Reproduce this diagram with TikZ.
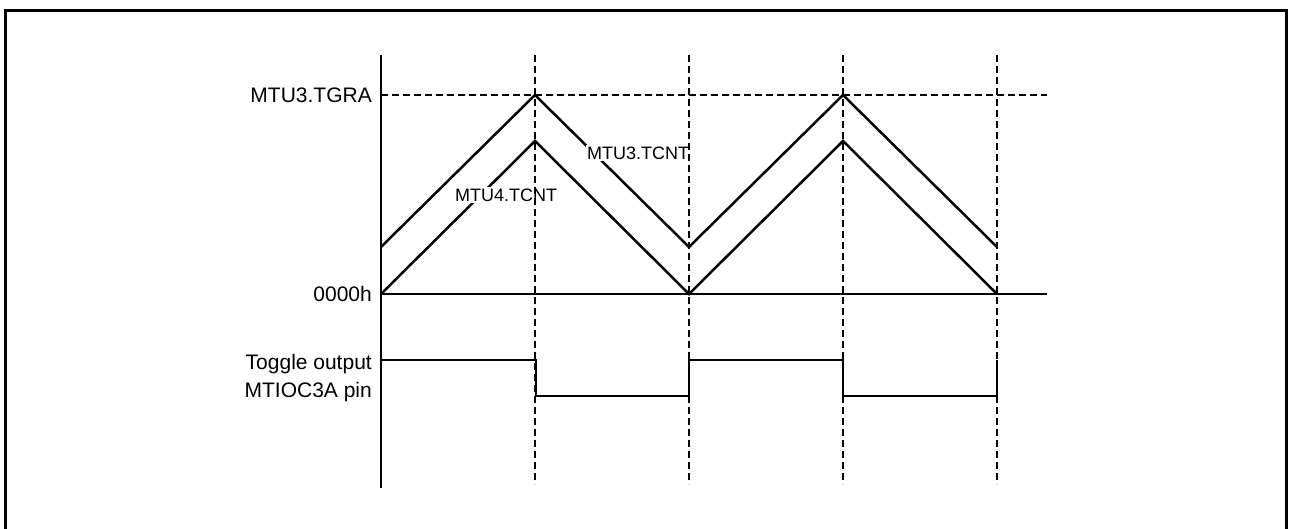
\documentclass[tikz,border=0pt]{standalone}
\usepackage{fontspec}
\setmainfont{Liberation Sans}
\begin{document}
\begin{tikzpicture}[x=1pt,y=-1pt,
  frameline/.style={line width=3pt},
  axisline/.style={line width=1.3pt},
  gridline/.style={line width=1.2pt, dash pattern=on 7pt off 4pt},
  sigline/.style={line width=2.5pt, line join=miter},
  axlabel/.style={font=\fontsize{21}{25}\selectfont, inner sep=0pt, anchor=base east},
  wavelabel/.style={font=\fontsize{18}{22}\selectfont, inner sep=1.5pt, fill=white}]
\useasboundingbox (0,0) rectangle (1289,529);
% frame
\draw[frameline] (5.5,529) -- (5.5,10.5) -- (1286.5,10.5) -- (1286.5,529);
% coordinates
\coordinate (o) at (381,294);
\coordinate (ytop) at (381,55);
\coordinate (ybot) at (381,488);
\coordinate (hend) at (1047,294);
\coordinate (tg0) at (381,95);
\coordinate (tgend) at (1047,95);
% axes
\draw[axisline] (ytop) -- (ybot);
\draw[axisline] (o) -- (hend);
% MTU3.TCNT
\draw[sigline] (381,247) -- (535,95) -- (689,247) -- (843,95) -- (997,247);
% MTU4.TCNT
\draw[sigline] (381,294) -- (535,141) -- (689,294) -- (843,141) -- (997,294);
% toggle output
\draw[sigline] (381,360) -- (536,360) -- (536,396) -- (689,396) -- (689,360) -- (843,360) -- (843,396) -- (997,396) -- (997,360);
% wave labels
\node[wavelabel] (l3) at (638,153) {MTU3.TCNT};
\node[wavelabel] (l4) at (506,195) {MTU4.TCNT};
% dashed grid
\draw[gridline] (tg0) -- (tgend);
\foreach \x in {535,689,843,997} {
  \draw[gridline] (\x,55) -- (\x,484);
}
% axis labels
\node[axlabel] (tgra) at (372,102.5) {MTU3.TGRA};
\node[axlabel] (zero) at (372,301) {0000h};
\node[axlabel] (tog1) at (372,369) {Toggle output};
\node[axlabel] (tog2) at (372,397) {MTIOC3A pin};
\end{tikzpicture}
\end{document}
